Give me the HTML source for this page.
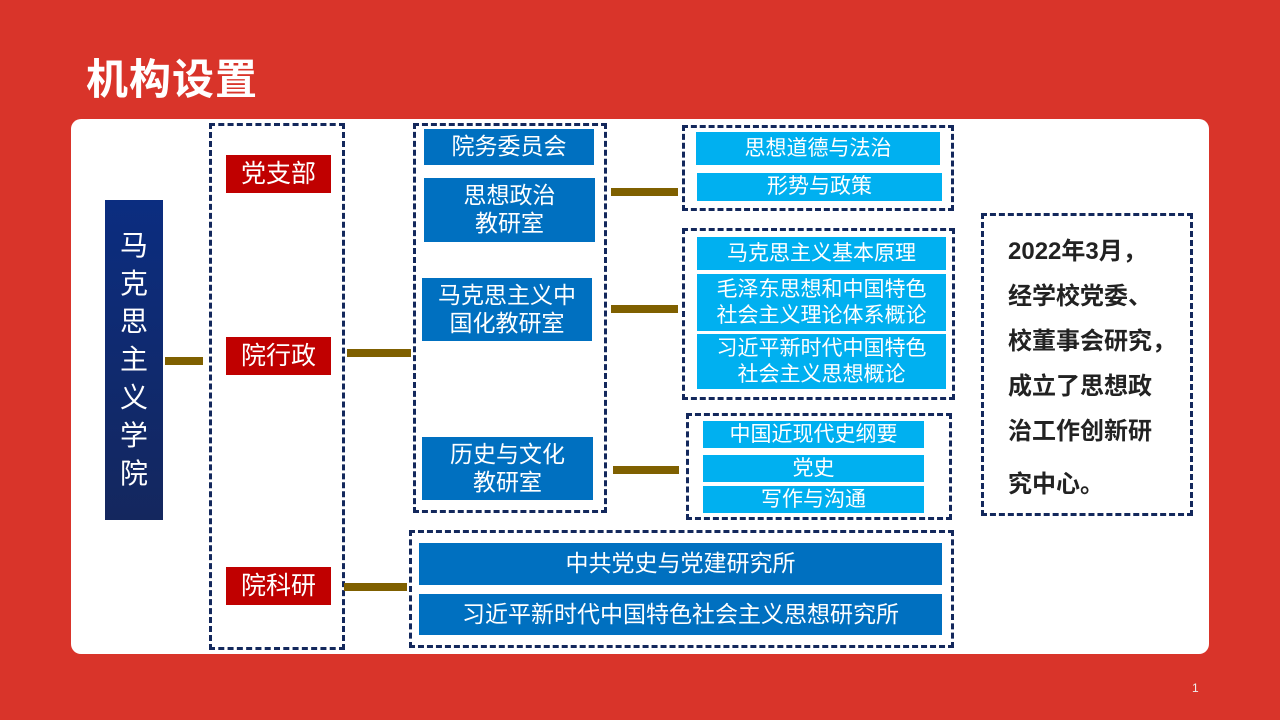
<!DOCTYPE html>
<html><head><meta charset="utf-8"><style>
*{margin:0;padding:0;box-sizing:border-box}
body{width:1280px;height:720px;background:#D9342A;position:relative;overflow:hidden;font-family:"Liberation Sans","Noto Sans CJK SC",sans-serif}
.a{position:absolute}
.panel{left:71px;top:119px;width:1138px;height:535px;background:#fff;border-radius:10px}
.d{position:absolute;border:3px dashed #13285C}
.b{position:absolute;display:flex;align-items:center;justify-content:center;text-align:center;color:#fff;line-height:1.2}
.red{background:#C00000;font-size:25px}
.blue{background:#0070C0;font-size:23px}
.sky{background:#00B0F0;font-size:21px}
.c{position:absolute;background:#7F6000;height:8px}
</style></head><body>
<div class="a" style="left:86px;top:46px;font-size:42px;font-weight:bold;color:#fff;letter-spacing:1px">机构设置</div>
<div class="a panel"></div>
<div class="b" style="left:105px;top:200px;width:58px;height:320px;background:linear-gradient(#0B2D80,#14275E);font-size:28px;line-height:38px;flex-direction:column">马<br>克<br>思<br>主<br>义<br>学<br>院</div>
<div class="c" style="left:165px;top:357px;width:38px"></div>
<div class="d" style="left:209px;top:123px;width:136px;height:527px"></div>
<div class="b red" style="left:226px;top:155px;width:105px;height:38px">党支部</div>
<div class="b red" style="left:226px;top:337px;width:105px;height:38px">院行政</div>
<div class="b red" style="left:226px;top:567px;width:105px;height:38px">院科研</div>
<div class="c" style="left:347px;top:349px;width:64px"></div>
<div class="c" style="left:344px;top:583px;width:63px"></div>
<div class="d" style="left:413px;top:123px;width:194px;height:390px"></div>
<div class="b blue" style="left:424px;top:129px;width:170px;height:36px">院务委员会</div>
<div class="b blue" style="left:424px;top:178px;width:171px;height:64px">思想政治<br>教研室</div>
<div class="b blue" style="left:422px;top:278px;width:170px;height:63px">马克思主义中<br>国化教研室</div>
<div class="b blue" style="left:422px;top:437px;width:171px;height:63px">历史与文化<br>教研室</div>
<div class="c" style="left:611px;top:188px;width:67px"></div>
<div class="c" style="left:611px;top:305px;width:67px"></div>
<div class="c" style="left:613px;top:466px;width:66px"></div>
<div class="d" style="left:682px;top:125px;width:272px;height:86px"></div>
<div class="b sky" style="left:696px;top:132px;width:244px;height:33px">思想道德与法治</div>
<div class="b sky" style="left:697px;top:173px;width:245px;height:28px">形势与政策</div>
<div class="d" style="left:682px;top:228px;width:273px;height:172px"></div>
<div class="b sky" style="left:697px;top:237px;width:249px;height:33px">马克思主义基本原理</div>
<div class="b sky" style="left:697px;top:274px;width:249px;height:57px">毛泽东思想和中国特色<br>社会主义理论体系概论</div>
<div class="b sky" style="left:697px;top:334px;width:249px;height:55px">习近平新时代中国特色<br>社会主义思想概论</div>
<div class="d" style="left:686px;top:413px;width:266px;height:107px"></div>
<div class="b sky" style="left:703px;top:421px;width:221px;height:27px">中国近现代史纲要</div>
<div class="b sky" style="left:703px;top:455px;width:221px;height:27px">党史</div>
<div class="b sky" style="left:703px;top:486px;width:221px;height:27px">写作与沟通</div>
<div class="d" style="left:409px;top:530px;width:545px;height:118px"></div>
<div class="b blue" style="left:419px;top:543px;width:523px;height:42px">中共党史与党建研究所</div>
<div class="b blue" style="left:419px;top:594px;width:523px;height:41px">习近平新时代中国特色社会主义思想研究所</div>
<div class="d" style="left:981px;top:213px;width:212px;height:303px"></div>
<div class="a" style="left:1008px;top:229px;font-size:24px;font-weight:bold;color:#222;line-height:45px;width:180px">2022年3月，<br>经学校党委、<br>校董事会研究，<br>成立了思想政<br>治工作创新研<br><span style="display:inline-block;margin-top:8px">究中心。</span></div>
<div class="a" style="left:1192px;top:681px;font-size:12px;color:#eee">1</div>
</body></html>
